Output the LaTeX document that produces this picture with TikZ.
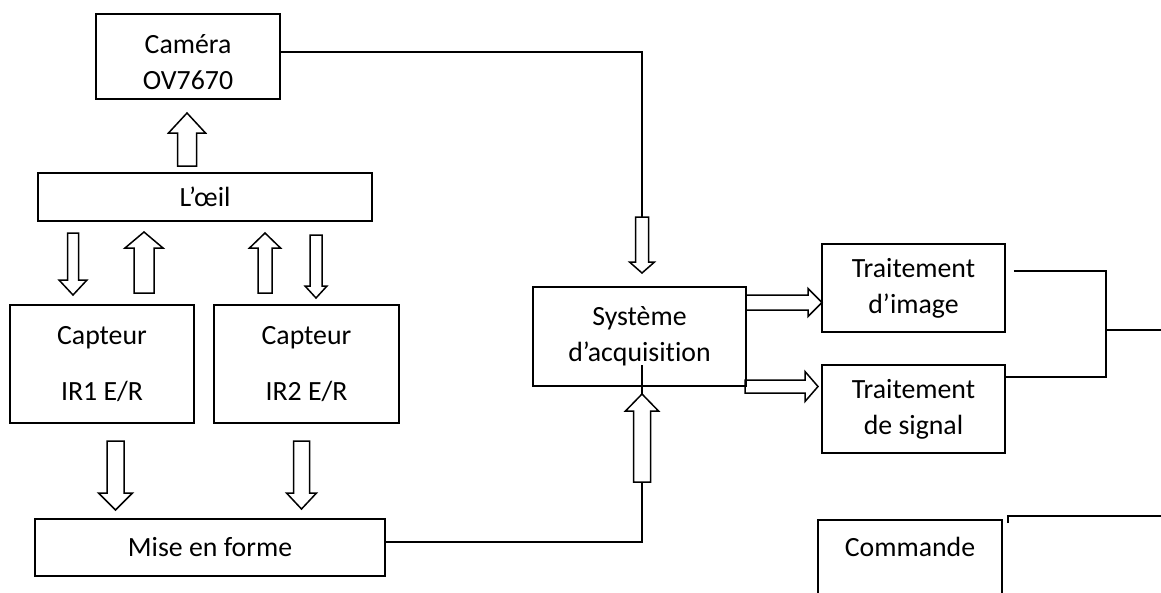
\documentclass[tikz,border=0pt]{standalone}
\usepackage{fontspec}
\setmainfont[Ligatures=NoCommon]{Carlito}
\newcommand{\textebloc}{\fontsize{27.8pt}{36pt}\selectfont}

\tikzset{
  bloc/.style={draw, line width=1.5pt, align=center, inner sep=0pt, font=\textebloc},
  liaison/.style={line width=1.5pt},
  % fleche creuse : longueur, demi-largeur du corps, demi-largeur de la tete, longueur de la tete
  pics/creuse/.style n args={4}{code={
    \draw [line width=1.5pt, line join=miter] (0,-#2) -- ({#1-#4},-#2) -- ({#1-#4},-#3) -- (#1,0)
      -- ({#1-#4},#3) -- ({#1-#4},#2) -- (0,#2) -- cycle;
  }},
}

\begin{document}
\begin{tikzpicture}[x=1pt, y=-1pt]

\useasboundingbox (0,0) rectangle (1161,592);
\clip (0,0) rectangle (1161,592);

\coordinate (camera) at (188,56.5);
\coordinate (oeil) at (205,197);
\coordinate (capteur-1) at (102,364);
\coordinate (capteur-2) at (306.5,364);
\coordinate (mise-en-forme) at (210,547.5);
\coordinate (acquisition) at (639.5,336.5);
\coordinate (traitement-image) at (913.5,288);
\coordinate (traitement-signal) at (913.5,409);
\coordinate (commande) at (910,519);

\coordinate (jonction) at (1106,330);
\coordinate (sortie) at (1161,330);
\coordinate (commande-sortie) at (1161,516);

% departs des fleches creuses
\coordinate (oeil-camera) at (187,166);
\coordinate (oeil-capteur-1) at (73,233);
\coordinate (capteur-1-oeil) at (144,293);
\coordinate (capteur-2-oeil) at (265,293);
\coordinate (oeil-capteur-2) at (316,235);
\coordinate (capteur-1-mise) at (115.5,441);
\coordinate (capteur-2-mise) at (301.5,441);
\coordinate (camera-acquisition) at (642,217);
\coordinate (mise-acquisition) at (642,482);
\coordinate (mise-acquisition-tip) at (642,394);
\coordinate (acquisition-image) at (746,302.5);
\coordinate (acquisition-signal) at (745,386.5);

\node (camera-box) [bloc, minimum width=184pt, minimum height=85pt] at (camera) {\rule{0pt}{30pt}Caméra\\OV7670};
\node (oeil-box) [bloc, minimum width=334pt, minimum height=48pt] at (oeil) {L’œil};
\node (capteur-1-box) [bloc, minimum width=184pt, minimum height=118pt] at (capteur-1) {Capteur\\[20pt]IR1 E/R};
\node (capteur-2-box) [bloc, minimum width=185pt, minimum height=118pt] at (capteur-2) {Capteur\\[20pt]IR2 E/R};
\node (mise-box) [bloc, minimum width=350pt, minimum height=57pt] at (mise-en-forme) {Mise en forme};
\node (acquisition-box) [bloc, minimum width=213pt, minimum height=99pt] at (acquisition) {Système\\d’acquisition};
\node (image-box) [bloc, minimum width=183pt, minimum height=88pt] at (traitement-image) {Traitement\\d’image};
\node (signal-box) [bloc, minimum width=183pt, minimum height=88pt] at (traitement-signal) {Traitement\\de signal};
\node (commande-box) [bloc, anchor=north, minimum width=184pt, inner ysep=8pt, text height=29pt, text depth=80pt] at (commande) {Commande};

\pic [rotate=90] at (oeil-camera) {creuse={53}{9.5}{18.5}{20}};
\pic [rotate=-90] at (oeil-capteur-1) {creuse={62}{5.5}{14}{15}};
\pic [rotate=90] at (capteur-1-oeil) {creuse={61}{10}{19}{16}};
\pic [rotate=90] at (capteur-2-oeil) {creuse={60}{7}{15.5}{15}};
\pic [rotate=-90] at (oeil-capteur-2) {creuse={63}{6}{11}{12}};
\pic [rotate=-90] at (capteur-1-mise) {creuse={69}{8.5}{17}{17}};
\pic [rotate=-90] at (capteur-2-mise) {creuse={68}{8}{15}{16}};
\pic [rotate=-90] at (camera-acquisition) {creuse={56}{6.5}{12.5}{11}};
\pic [rotate=90] at (mise-acquisition) {creuse={88}{8.5}{16.5}{17}};
\pic at (acquisition-image) {creuse={76}{7.5}{14}{14}};
\pic at (acquisition-signal) {creuse={73}{6.5}{15}{13}};

\draw [liaison] ([yshift=4.5pt]camera-box.east) -| (camera-acquisition);
\draw [liaison] ([yshift=5.5pt]mise-box.east) -| (mise-acquisition);
\draw [liaison] (mise-acquisition-tip) -- ++(0,-29);

\draw [liaison] ([xshift=8pt,yshift=17pt]image-box.east) -| (jonction) |- ([yshift=32pt]signal-box.east);
\draw [liaison] (jonction) -- (sortie);
\draw [liaison] ([xshift=5pt,yshift=-4pt]commande-box.north east) |- (commande-sortie);

\end{tikzpicture}
\end{document}
